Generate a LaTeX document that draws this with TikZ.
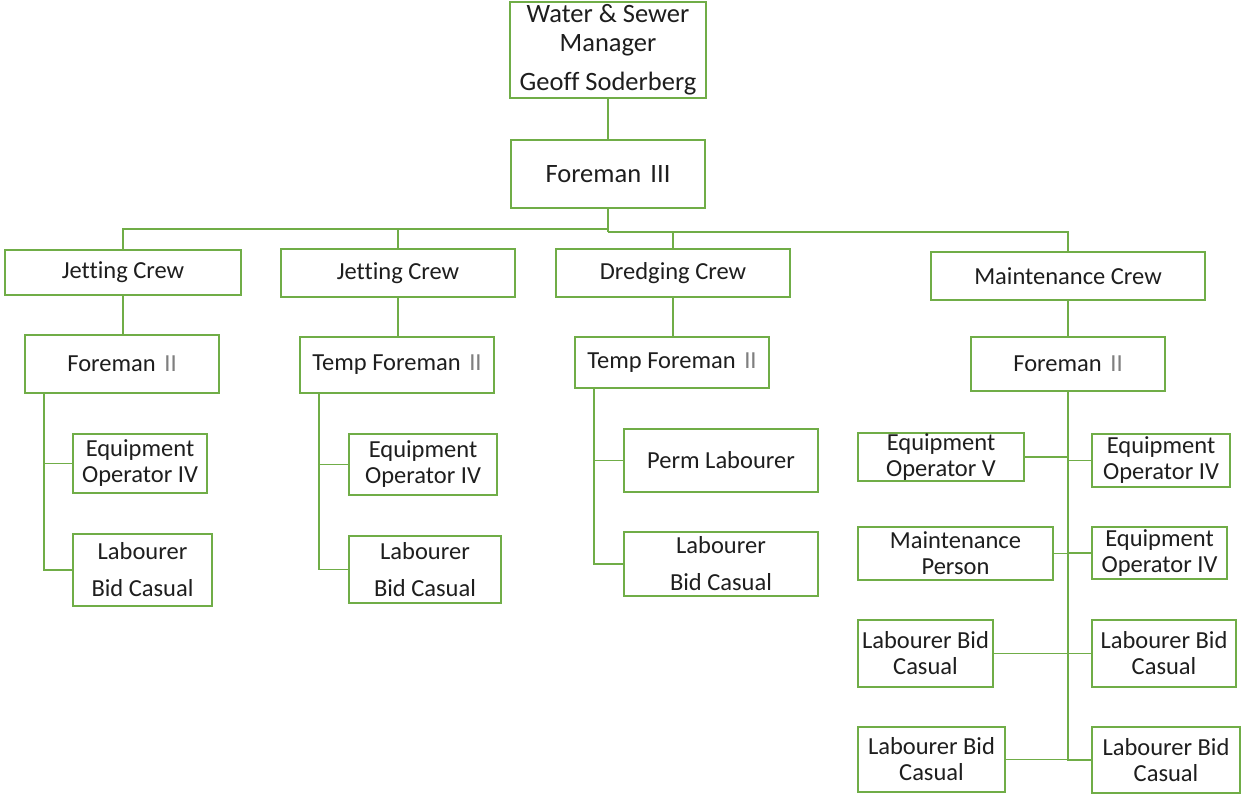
\documentclass[tikz,border=0pt]{standalone}
\usepackage{fontspec}
\setmainfont[Ligatures=NoCommon]{Carlito}
\usetikzlibrary{calc}
\definecolor{boxgreen}{HTML}{70AD47}
\definecolor{ink}{HTML}{1E1E1E}
\definecolor{numgray}{HTML}{7F7F7F}
\newcommand{\rom}[1]{\hspace{0.35em}\textcolor{numgray}{#1}}
\begin{document}
\begin{tikzpicture}[x=1pt,y=-1pt,
  box/.style={draw=boxgreen, line width=1.8pt, fill=white, text=ink, align=center,
              inner sep=0pt, font=\fontsize{24.5}{26}\selectfont},
  link/.style={draw=boxgreen, line width=1.8pt}]
\useasboundingbox (0,0) rectangle (1242,795);

% top of the chart
\node[box, minimum width=196pt, minimum height=96pt, font=\fontsize{26.5}{29}\selectfont] (mgr) at (608,50)
  {Water \& Sewer\\Manager\\[10pt]Geoff Soderberg};
\node[box, minimum width=194pt, minimum height=68pt, font=\fontsize{26.5}{28}\selectfont] (f3) at (608,174)
  {Foreman\hspace{0.35em}III};

% crews
\node[box, minimum width=236pt, minimum height=45pt] (jc1) at (123,272.5) {Jetting Crew};
\node[box, minimum width=234pt, minimum height=48pt] (jc2) at (398,273) {Jetting Crew};
\node[box, minimum width=234pt, minimum height=48pt] (dc)  at (673,273) {Dredging Crew};
\node[box, minimum width=274pt, minimum height=48pt] (mc)  at (1068,276) {Maintenance Crew};

% crew leads
\node[box, minimum width=194pt, minimum height=58pt] (fa) at (122,364)   {Foreman\rom{II}};
\node[box, minimum width=194pt, minimum height=56pt] (fb) at (397,365)   {Temp Foreman\rom{II}};
\node[box, minimum width=194pt, minimum height=51pt] (fc) at (672,362.5) {Temp Foreman\rom{II}};
\node[box, minimum width=194pt, minimum height=54pt] (fd) at (1068,364)  {Foreman\rom{II}};

% jetting crew 1
\node[box, minimum width=134pt, minimum height=59pt] (eo1) at (140,463.5) {Equipment\\Operator IV};
\node[box, minimum width=139pt, minimum height=72pt] (lb1) at (142.5,570) {Labourer\\[11pt]Bid Casual};
% jetting crew 2
\node[box, minimum width=148pt, minimum height=61pt] (eo2) at (423,464.5) {Equipment\\Operator IV};
\node[box, minimum width=152pt, minimum height=67pt] (lb2) at (425,569.5) {Labourer\\[11pt]Bid Casual};
% dredging crew
\node[box, minimum width=194pt, minimum height=63pt] (pl)  at (721,460.5) {Perm Labourer};
\node[box, minimum width=194pt, minimum height=64pt] (lb3) at (721,564) {Labourer\\[11pt]Bid Casual};

% maintenance crew
\node[box, minimum width=166pt, minimum height=48pt] (eov)  at (941,457)    {Equipment\\Operator V};
\node[box, minimum width=138pt, minimum height=53pt] (eoa)  at (1161,460.5) {Equipment\\Operator IV};
\node[box, minimum width=195pt, minimum height=53pt] (mp)   at (955.5,553.5){Maintenance\\Person};
\node[box, minimum width=135pt, minimum height=52pt] (eob)  at (1159.5,553) {Equipment\\Operator IV};
\node[box, minimum width=135pt, minimum height=67pt] (lba)  at (925.5,653.5){Labourer Bid\\Casual};
\node[box, minimum width=144pt, minimum height=67pt] (lbb)  at (1164,653.5) {Labourer Bid\\Casual};
\node[box, minimum width=147pt, minimum height=65pt] (lbc)  at (931.5,759.5){Labourer Bid\\Casual};
\node[box, minimum width=148pt, minimum height=66pt] (lbd)  at (1166,760)   {Labourer Bid\\Casual};

% buses below the foreman III
\coordinate (busl) at (608,229);
\coordinate (busr) at (608,232);
\draw[link] (mgr.south) -- (f3.north);
\draw[link] (f3.south) -- (busr);
\draw[link] (busl) -| (jc1.north);
\draw[link] (busl) -| (jc2.north);
\draw[link] (busr) -| (dc.north);
\draw[link] (busr) -| (mc.north);

% crews to their leads
\draw[link] (jc1.south) -- (jc1.south |- fa.north);
\draw[link] (jc2.south) -- (jc2.south |- fb.north);
\draw[link] (dc.south)  -- (dc.south |- fc.north);
\draw[link] (mc.south)  -- (mc.south |- fd.north);

% trunks of the three small crews
\coordinate (ta) at ($(fa.south west)+(20,0)$);
\coordinate (tb) at ($(fb.south west)+(20,0)$);
\coordinate (tc) at ($(fc.south west)+(20,0)$);
\draw[link] (ta) |- (eo1.west);
\draw[link] (ta) |- (lb1.west);
\draw[link] (tb) |- (eo2.west);
\draw[link] (tb) |- (lb2.west);
\draw[link] (tc) |- (pl.west);
\draw[link] (tc) |- (lb3.west);

% maintenance trunk and branches
\draw[link] (fd.south) |- (lbd.west);
\draw[link] (eov.east) -- (eov.east -| fd.south);
\draw[link] (eoa.west) -- (eoa.west -| fd.south);
\draw[link] (mp.east)  -- (mp.east -| fd.south);
\draw[link] (eob.west) -- (eob.west -| fd.south);
\draw[link] (lba.east) -- (lba.east -| fd.south);
\draw[link] (lbb.west) -- (lbb.west -| fd.south);
\draw[link] (lbc.east) -- (lbc.east -| fd.south);
\end{tikzpicture}
\end{document}
